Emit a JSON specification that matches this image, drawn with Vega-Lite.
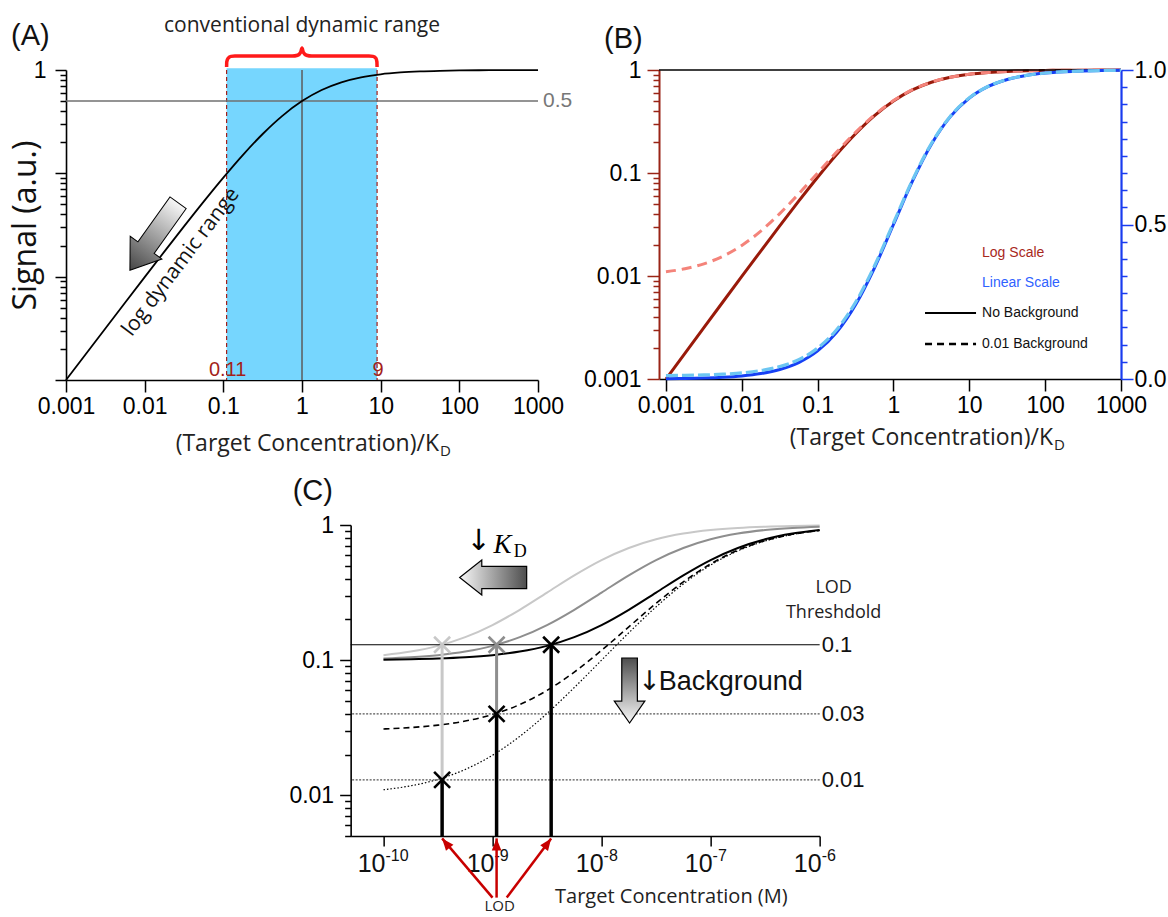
{
"$schema": "https://vega.github.io/schema/vega-lite/v6.json",
"background": "white",
"padding": {"left": 9, "top": 14, "right": 2, "bottom": 2},
"config": {
  "view": {"stroke": null},
  "axis": {"grid": false, "domainColor": "#000", "domainWidth": 1.6, "tickColor": "#000", "tickWidth": 1.5, "labelColor": "#000", "labelFont": "Liberation Sans", "labelFontSize": 23, "labelOverlap": false, "labelFlush": false, "titleFont": "Open Sans", "titleFontWeight": "normal", "titleColor": "#111"},
  "text": {"font": "Open Sans", "color": "#1a1a1a"}
},
"data": {"name": "one"},
"datasets": {
  "one": [{"n": 1}],
  "curve": [
    {"x":0.001,"s":0.000999,"sb":0.010989},
    {"x":0.0017783,"s":0.0017751,"sb":0.011757},
    {"x":0.0031623,"s":0.0031523,"sb":0.013121},
    {"x":0.0056234,"s":0.005592,"sb":0.015536},
    {"x":0.01,"s":0.009901,"sb":0.019802},
    {"x":0.017783,"s":0.017472,"sb":0.027297},
    {"x":0.031623,"s":0.030653,"sb":0.040346},
    {"x":0.056234,"s":0.053241,"sb":0.062709},
    {"x":0.1,"s":0.090909,"sb":0.1},
    {"x":0.17783,"s":0.15098,"sb":0.15947},
    {"x":0.31623,"s":0.240253,"sb":0.247851},
    {"x":0.56234,"s":0.359935,"sb":0.366336},
    {"x":1,"s":0.5,"sb":0.505},
    {"x":1.7783,"s":0.640065,"sb":0.643664},
    {"x":3.1623,"s":0.759747,"sb":0.76215},
    {"x":5.6234,"s":0.84902,"sb":0.85053},
    {"x":10,"s":0.909091,"sb":0.91},
    {"x":17.783,"s":0.946759,"sb":0.947291},
    {"x":31.623,"s":0.969347,"sb":0.969654},
    {"x":56.234,"s":0.982528,"sb":0.982703},
    {"x":100,"s":0.990099,"sb":0.990198},
    {"x":177.83,"s":0.994408,"sb":0.994464},
    {"x":316.23,"s":0.996848,"sb":0.99688},
    {"x":562.34,"s":0.998225,"sb":0.998243},
    {"x":1000,"s":0.999001,"sb":0.999011}
  ],
  "bounds": [{"b": 0.11}, {"b": 9}],
  "brace": [
    {"x":0.11,"y":1.07},{"x":0.1105,"y":1.2},{"x":0.115,"y":1.3},{"x":0.125,"y":1.355},{"x":0.14,"y":1.365},
    {"x":0.75,"y":1.365},{"x":0.88,"y":1.39},{"x":0.96,"y":1.48},{"x":1.0,"y":1.63},{"x":1.04,"y":1.48},
    {"x":1.14,"y":1.39},{"x":1.33,"y":1.365},{"x":7.1,"y":1.365},{"x":8.0,"y":1.355},{"x":8.7,"y":1.3},
    {"x":8.95,"y":1.2},{"x":9.0,"y":1.07}
  ],
  "bind": [
    {"x":1e-10,"k100":0.100899,"k32":0.102837,"k10":0.108911,"b03":0.030969,"b01":0.010989},
    {"x":1.7783e-10,"k100":0.101598,"k32":0.105033,"k10":0.115725,"b03":0.031722,"b01":0.011757},
    {"x":3.1623e-10,"k100":0.102837,"k32":0.108911,"k10":0.127588,"b03":0.033058,"b01":0.013121},
    {"x":5.6234e-10,"k100":0.105033,"k32":0.115725,"k10":0.147917,"b03":0.035424,"b01":0.015536},
    {"x":1e-9,"k100":0.108911,"k32":0.127588,"k10":0.181818,"b03":0.039604,"b01":0.019802},
    {"x":1.7783e-9,"k100":0.115725,"k32":0.147917,"k10":0.235882,"b03":0.046948,"b01":0.027297},
    {"x":3.1623e-9,"k100":0.127588,"k32":0.181818,"k10":0.316228,"b03":0.059733,"b01":0.040346},
    {"x":5.6234e-9,"k100":0.147917,"k32":0.235882,"k10":0.423942,"b03":0.081644,"b01":0.062709},
    {"x":1e-8,"k100":0.181818,"k32":0.316228,"k10":0.55,"b03":0.118182,"b01":0.1},
    {"x":1.7783e-8,"k100":0.235882,"k32":0.423942,"k10":0.676059,"b03":0.176451,"b01":0.15947},
    {"x":3.1623e-8,"k100":0.316228,"k32":0.55,"k10":0.783772,"b03":0.263045,"b01":0.247851},
    {"x":5.6234e-8,"k100":0.423942,"k32":0.676059,"k10":0.864118,"b03":0.379137,"b01":0.366336},
    {"x":1e-7,"k100":0.55,"k32":0.783772,"k10":0.918182,"b03":0.515,"b01":0.505},
    {"x":1.7783e-7,"k100":0.676059,"k32":0.864118,"k10":0.952083,"b03":0.650863,"b01":0.643664},
    {"x":3.1623e-7,"k100":0.783772,"k32":0.918182,"k10":0.972412,"b03":0.766955,"b01":0.76215},
    {"x":5.6234e-7,"k100":0.864118,"k32":0.952083,"k10":0.984275,"b03":0.853549,"b01":0.85053},
    {"x":1e-6,"k100":0.918182,"k32":0.972412,"k10":0.991089,"b03":0.911818,"b01":0.91}
  ],
  "lod": [
    {"x": 3.45e-10, "lod": 0.013, "top": 0.13, "kd": "10 nM"},
    {"x": 1.09e-9, "lod": 0.04, "top": 0.13, "kd": "31.6 nM"},
    {"x": 3.45e-9, "lod": 0.13, "top": 0.13, "kd": "100 nM"}
  ],
  "marks": [
    {"x": 3.45e-10, "y": 0.13, "kd": "10 nM"},
    {"x": 1.09e-9, "y": 0.13, "kd": "31.6 nM"},
    {"x": 3.45e-9, "y": 0.13, "kd": "100 nM"},
    {"x": 1.09e-9, "y": 0.04, "kd": "100 nM"},
    {"x": 3.45e-10, "y": 0.013, "kd": "100 nM"}
  ],
  "thresholds": [
    {"level": 0.13, "label": "0.1"},
    {"level": 0.04, "label": "0.03"},
    {"level": 0.013, "label": "0.01"}
  ],
  "decades": [
    {"x": 1e-10, "exp": "-10"},
    {"x": 1e-9, "exp": "-9"},
    {"x": 1e-8, "exp": "-8"},
    {"x": 1e-7, "exp": "-7"},
    {"x": 1e-6, "exp": "-6"}
  ]
},
"spacing": 18,
"center": true,
"bounds": "full",
"vconcat": [
 {
  "hconcat": [
   {
    "width": 472, "height": 310,
    "layer": [
     {"data": {"name": "bounds"},
      "mark": {"type": "rect", "color": "#76d6fe"},
      "encoding": {
        "x": {"aggregate": "min", "field": "b", "type": "quantitative", "scale": {"type": "log", "domain": [0.001, 1000], "nice": false},
              "axis": {"values": [0.001,0.01,0.1,1,10,100,1000], "tickCount": 100, "format": "~g", "tickSize": 12, "labelPadding": 3, "title": null}},
        "x2": {"aggregate": "max", "field": "b"},
        "y": {"datum": 0.001, "type": "quantitative", "title": "Signal (a.u.)", "scale": {"type": "log", "domain": [0.001, 1], "nice": false},
              "axis": {"values": [0.001,0.002,0.003,0.004,0.005,0.006,0.007,0.008,0.009,0.01,0.02,0.03,0.04,0.05,0.06,0.07,0.08,0.09,0.1,0.2,0.3,0.4,0.5,0.6,0.7,0.8,0.9,1],
                       "tickCount": 100,
                       "labelExpr": "datum.value == 1 ? '1' : ''",
                       "tickSize": {"condition": {"test": "datum.value == 1 || datum.value == 0.1 || datum.value == 0.01 || datum.value == 0.001", "value": 11}, "value": 6},
                       "labelPadding": 9, "titleFontSize": 32, "titlePadding": -9}},
        "y2": {"datum": 1.04}
      }},
     {"data": {"name": "bounds"},
      "mark": {"type": "rule", "color": "#a31f1a", "strokeDash": [4, 3], "strokeWidth": 1.2},
      "encoding": {"x": {"field": "b", "type": "quantitative", "title": null}}},
     {"mark": {"type": "rule", "color": "#707070", "strokeWidth": 1.5},
      "encoding": {"y": {"datum": 0.5, "type": "quantitative", "title": "Signal (a.u.)"}}},
     {"mark": {"type": "rule", "color": "#5c5c5c", "strokeWidth": 1.5},
      "encoding": {"x": {"datum": 1, "type": "quantitative", "title": null}}},
     {"data": {"name": "curve"},
      "mark": {"type": "line", "color": "#000", "strokeWidth": 1.8, "interpolate": "monotone"},
      "encoding": {"x": {"field": "x", "type": "quantitative", "title": null}, "y": {"field": "s", "type": "quantitative", "title": "Signal (a.u.)"}}},
     {"data": {"name": "bounds"},
      "mark": {"type": "text", "font": "Liberation Sans", "fontSize": 20, "color": "#a31f1a", "dy": -10, "dx": 1},
      "encoding": {"x": {"field": "b", "type": "quantitative", "title": null}, "y": {"datum": 0.001, "type": "quantitative", "title": "Signal (a.u.)"},
                   "text": {"field": "b", "type": "quantitative", "format": "~g"}}},
     {"mark": {"type": "text", "text": "0.5", "font": "Liberation Sans", "fontSize": 21, "color": "#777", "align": "left", "dx": 5},
      "encoding": {"x": {"datum": 1000, "type": "quantitative", "title": null}, "y": {"datum": 0.5, "type": "quantitative", "title": "Signal (a.u.)"}}},
     {"data": {"name": "brace"},
      "mark": {"type": "line", "color": "#ff1a1a", "strokeWidth": 3.5, "interpolate": "monotone"},
      "encoding": {"x": {"field": "x", "type": "quantitative", "title": null}, "y": {"field": "y", "type": "quantitative", "title": "Signal (a.u.)"}}},
     {"mark": {"type": "text", "text": "conventional dynamic range", "fontSize": 21, "color": "#222"},
      "encoding": {"x": {"datum": 1.0, "type": "quantitative", "title": null}, "y": {"datum": 2.666, "type": "quantitative", "title": "Signal (a.u.)"}}},
     {"mark": {"type": "text", "text": "log dynamic range", "fontSize": 21, "color": "#111", "angle": 307},
      "encoding": {"x": {"datum": 0.02897, "type": "quantitative", "title": null}, "y": {"datum": 0.01387, "type": "quantitative", "title": "Signal (a.u.)"}}},
     {"mark": {"type": "point", "shape": "M -1 -0.24 L 0.33 -0.24 L 0.33 -0.47 L 1 0 L 0.33 0.47 L 0.33 0.24 L -1 0.24 Z", "size": 6889, "angle": 125.5, "filled": true, "opacity": 1,
               "fill": {"gradient": "linear", "x1": 0, "y1": 0, "x2": 1, "y2": 0, "stops": [{"offset": 0, "color": "#f7f7f7"}, {"offset": 1, "color": "#454545"}]},
               "stroke": "#000", "strokeWidth": 1},
      "encoding": {"x": {"datum": 0.01314, "type": "quantitative", "title": null}, "y": {"datum": 0.02447, "type": "quantitative", "title": "Signal (a.u.)"}}},
     {"mark": {"type": "text", "text": "(A)", "font": "Liberation Sans", "fontSize": 29, "color": "#111", "align": "left", "dx": -55, "dy": -34},
      "encoding": {"x": {"datum": 0.001, "type": "quantitative", "title": null}, "y": {"datum": 1, "type": "quantitative", "title": "Signal (a.u.)"}}},
     {"mark": {"type": "text", "text": "(Target Concentration)/K", "fontSize": 23, "color": "#222", "align": "right", "dy": 64},
      "encoding": {"x": {"datum": 55.1, "type": "quantitative", "title": null}, "y": {"datum": 0.001, "type": "quantitative", "title": "Signal (a.u.)"}}},
     {"mark": {"type": "text", "text": "D", "fontSize": 15, "color": "#222", "align": "left", "dx": 1, "dy": 71},
      "encoding": {"x": {"datum": 55.1, "type": "quantitative", "title": null}, "y": {"datum": 0.001, "type": "quantitative", "title": "Signal (a.u.)"}}}
    ]
   },
   {
    "width": 462, "height": 309,
    "resolve": {"scale": {"y": "independent"}, "axis": {"y": "independent"}},
    "layer": [
     {"layer": [
       {"data": {"name": "curve"},
        "mark": {"type": "line", "color": "#991a0a", "strokeWidth": 3, "interpolate": "monotone"},
        "encoding": {
          "x": {"field": "x", "type": "quantitative", "scale": {"type": "log", "domain": [0.00081, 1000], "nice": false},
                "axis": {"values": [0.001,0.01,0.1,1,10,100,1000], "tickCount": 100, "format": "~g", "tickSize": 12, "labelPadding": 3, "title": null}},
          "y": {"field": "s", "type": "quantitative", "scale": {"type": "log", "domain": [0.001, 1], "nice": false},
                "axis": {"orient": "left", "values": [0.001,0.002,0.003,0.004,0.005,0.006,0.007,0.008,0.009,0.01,0.02,0.03,0.04,0.05,0.06,0.07,0.08,0.09,0.1,0.2,0.3,0.4,0.5,0.6,0.7,0.8,0.9,1],
                         "tickCount": 100,
                         "labelExpr": "datum.value == 1 ? '1' : datum.value == 0.1 ? '0.1' : datum.value == 0.01 ? '0.01' : datum.value == 0.001 ? '0.001' : ''",
                         "tickSize": {"condition": {"test": "datum.value == 1 || datum.value == 0.1 || datum.value == 0.01 || datum.value == 0.001", "value": 12}, "value": 6},
                         "labelPadding": 6, "domainColor": "#9a2416", "tickColor": "#9a2416", "domainWidth": 2, "title": null}}
        }},
       {"data": {"name": "curve"},
        "mark": {"type": "line", "color": "#f4837a", "strokeWidth": 3, "strokeDash": [10, 6], "interpolate": "monotone"},
        "encoding": {"x": {"field": "x", "type": "quantitative", "title": null}, "y": {"field": "sb", "type": "quantitative", "title": null}}},
       {"mark": {"type": "rule", "color": "#000", "strokeWidth": 1.5},
        "encoding": {"y": {"datum": 1, "type": "quantitative", "title": null}}},
       {"mark": {"type": "text", "text": "Log Scale", "font": "Liberation Sans", "fontSize": 14, "color": "#a8281c", "align": "left"},
        "encoding": {"x": {"datum": 14.71, "type": "quantitative", "title": null}, "y": {"datum": 0.01672, "type": "quantitative", "title": null}}},
       {"mark": {"type": "text", "text": "Linear Scale", "font": "Liberation Sans", "fontSize": 14, "color": "#2f62ff", "align": "left"},
        "encoding": {"x": {"datum": 14.71, "type": "quantitative", "title": null}, "y": {"datum": 0.00855, "type": "quantitative", "title": null}}},
       {"mark": {"type": "text", "text": "No Background", "font": "Liberation Sans", "fontSize": 14, "color": "#111", "align": "left"},
        "encoding": {"x": {"datum": 14.71, "type": "quantitative", "title": null}, "y": {"datum": 0.004375, "type": "quantitative", "title": null}}},
       {"mark": {"type": "text", "text": "0.01 Background", "font": "Liberation Sans", "fontSize": 14, "color": "#111", "align": "left"},
        "encoding": {"x": {"datum": 14.71, "type": "quantitative", "title": null}, "y": {"datum": 0.002188, "type": "quantitative", "title": null}}},
       {"mark": {"type": "rule", "color": "#000", "strokeWidth": 2},
        "encoding": {"x": {"datum": 2.605, "type": "quantitative", "title": null}, "x2": {"datum": 12.26}, "y": {"datum": 0.004375, "type": "quantitative", "title": null}}},
       {"mark": {"type": "rule", "color": "#000", "strokeWidth": 2.5, "strokeDash": [7, 5]},
        "encoding": {"x": {"datum": 2.605, "type": "quantitative", "title": null}, "x2": {"datum": 12.26}, "y": {"datum": 0.002188, "type": "quantitative", "title": null}}},
       {"mark": {"type": "text", "text": "(B)", "font": "Liberation Sans", "fontSize": 29, "color": "#111", "align": "left", "dx": -55, "dy": -31},
        "encoding": {"x": {"datum": 0.00081, "type": "quantitative", "title": null}, "y": {"datum": 1, "type": "quantitative", "title": null}}},
       {"mark": {"type": "text", "text": "(Target Concentration)/K", "fontSize": 23, "color": "#222", "align": "right", "dy": 59},
        "encoding": {"x": {"datum": 127, "type": "quantitative", "title": null}, "y": {"datum": 0.001, "type": "quantitative", "title": null}}},
       {"mark": {"type": "text", "text": "D", "fontSize": 15, "color": "#222", "align": "left", "dx": 1, "dy": 66},
        "encoding": {"x": {"datum": 127, "type": "quantitative", "title": null}, "y": {"datum": 0.001, "type": "quantitative", "title": null}}}
     ]},
     {"layer": [
       {"data": {"name": "curve"},
        "mark": {"type": "line", "color": "#1640f5", "strokeWidth": 3, "interpolate": "monotone"},
        "encoding": {
          "x": {"field": "x", "type": "quantitative", "title": null},
          "y": {"field": "s", "type": "quantitative", "scale": {"type": "linear", "domain": [0, 1], "nice": false, "zero": false},
                "axis": {"orient": "right", "values": [0,0.055556,0.111111,0.166667,0.222222,0.277778,0.333333,0.388889,0.444444,0.5,0.555556,0.611111,0.666667,0.722222,0.777778,0.833333,0.888889,0.944444,1],
                         "tickCount": 100,
                         "labelExpr": "datum.value == 0 || datum.value == 0.5 || datum.value == 1 ? format(datum.value, '.1f') : ''",
                         "labelOverlap": false, "labelBound": false,
                         "tickSize": {"condition": {"test": "datum.value == 0 || datum.value == 0.5 || datum.value == 1", "value": 12}, "value": 6},
                         "labelPadding": 1, "domainColor": "#1a3cef", "tickColor": "#1a3cef", "domainWidth": 2.2, "title": null}}
        }},
       {"data": {"name": "curve"},
        "mark": {"type": "line", "color": "#6cc6f2", "strokeWidth": 3.2, "strokeDash": [12, 4], "interpolate": "monotone"},
        "encoding": {"x": {"field": "x", "type": "quantitative", "title": null}, "y": {"field": "sb", "type": "quantitative", "title": null}}}
     ]}
    ]
   }
  ],
  "spacing": 121,
  "bounds": "flush"
 },
 {
  "width": 469, "height": 311,
  "layer": [
   {"data": {"name": "bind"},
    "mark": {"type": "line", "color": "#c8c8c8", "strokeWidth": 2, "interpolate": "monotone"},
    "encoding": {
      "x": {"field": "x", "type": "quantitative", "scale": {"type": "log", "domain": [5e-11, 1e-6], "nice": false},
            "axis": {"values": [1e-10,1e-9,1e-8,1e-7,1e-6], "tickCount": 100, "labels": false, "tickSize": 10, "title": null}},
      "y": {"field": "k10", "type": "quantitative", "scale": {"type": "log", "domain": [0.005, 1], "nice": false},
            "axis": {"values": [0.005,0.006,0.007,0.008,0.009,0.01,0.02,0.03,0.04,0.05,0.06,0.07,0.08,0.09,0.1,0.2,0.3,0.4,0.5,0.6,0.7,0.8,0.9,1],
                     "tickCount": 100,
                     "labelExpr": "datum.value == 1 ? '1' : datum.value == 0.1 ? '0.1' : datum.value == 0.01 ? '0.01' : ''",
                     "tickSize": {"condition": {"test": "datum.value == 1 || datum.value == 0.1 || datum.value == 0.01", "value": 11}, "value": 6},
                     "labelPadding": 6, "title": null}}
    }},
   {"data": {"name": "bind"},
    "mark": {"type": "line", "color": "#8e8e8e", "strokeWidth": 2, "interpolate": "monotone"},
    "encoding": {"x": {"field": "x", "type": "quantitative", "title": null}, "y": {"field": "k32", "type": "quantitative", "title": null}}},
   {"data": {"name": "bind"},
    "mark": {"type": "line", "color": "#000", "strokeWidth": 2, "interpolate": "monotone"},
    "encoding": {"x": {"field": "x", "type": "quantitative", "title": null}, "y": {"field": "k100", "type": "quantitative", "title": null}}},
   {"data": {"name": "bind"},
    "mark": {"type": "line", "color": "#000", "strokeWidth": 1.6, "strokeDash": [6, 4], "interpolate": "monotone"},
    "encoding": {"x": {"field": "x", "type": "quantitative", "title": null}, "y": {"field": "b03", "type": "quantitative", "title": null}}},
   {"data": {"name": "bind"},
    "mark": {"type": "line", "color": "#000", "strokeWidth": 1.2, "strokeDash": [1.5, 2], "interpolate": "monotone"},
    "encoding": {"x": {"field": "x", "type": "quantitative", "title": null}, "y": {"field": "b01", "type": "quantitative", "title": null}}},
   {"data": {"name": "thresholds"},
    "transform": [{"filter": "datum.level == 0.13"}],
    "mark": {"type": "rule", "color": "#000", "strokeWidth": 1.2},
    "encoding": {"y": {"field": "level", "type": "quantitative", "title": null}}},
   {"data": {"name": "thresholds"},
    "transform": [{"filter": "datum.level != 0.13"}],
    "mark": {"type": "rule", "color": "#555", "strokeWidth": 1.2, "strokeDash": [2, 1.5]},
    "encoding": {"y": {"field": "level", "type": "quantitative", "title": null}}},
   {"data": {"name": "lod"},
    "mark": {"type": "rule", "strokeWidth": 3},
    "encoding": {"x": {"field": "x", "type": "quantitative", "title": null},
                 "y": {"field": "lod", "type": "quantitative", "title": null}, "y2": {"field": "top"},
                 "color": {"field": "kd", "type": "nominal", "scale": {"domain": ["10 nM", "31.6 nM", "100 nM"], "range": ["#c8c8c8", "#8e8e8e", "#000000"]}, "legend": null}}},
   {"data": {"name": "lod"},
    "mark": {"type": "rule", "strokeWidth": 3.5, "color": "#000"},
    "encoding": {"x": {"field": "x", "type": "quantitative", "title": null},
                 "y": {"field": "lod", "type": "quantitative", "title": null}, "y2": {"datum": 0.005}}},
   {"data": {"name": "marks"},
    "mark": {"type": "point", "shape": "M -1 -1 L 1 1 M -1 1 L 1 -1", "size": 256, "filled": false, "strokeWidth": 2.6, "opacity": 1},
    "encoding": {"x": {"field": "x", "type": "quantitative", "title": null},
                 "y": {"field": "y", "type": "quantitative", "title": null},
                 "color": {"field": "kd", "type": "nominal", "scale": {"domain": ["10 nM", "31.6 nM", "100 nM"], "range": ["#c8c8c8", "#8e8e8e", "#000000"]}, "legend": null}}},
   {"data": {"name": "thresholds"},
    "mark": {"type": "text", "font": "Liberation Sans", "fontSize": 22, "color": "#111", "align": "left", "dx": 2},
    "encoding": {"x": {"datum": 1e-6, "type": "quantitative", "title": null}, "y": {"field": "level", "type": "quantitative", "title": null}, "text": {"field": "label"}}},
   {"mark": {"type": "text", "text": "LOD", "fontSize": 18, "color": "#222", "dx": 14},
    "encoding": {"x": {"datum": 1e-6, "type": "quantitative", "title": null}, "y": {"datum": 0.342, "type": "quantitative", "title": null}}},
   {"mark": {"type": "text", "text": "Threshdold", "fontSize": 18, "color": "#222", "dx": 14},
    "encoding": {"x": {"datum": 1e-6, "type": "quantitative", "title": null}, "y": {"datum": 0.2234, "type": "quantitative", "title": null}}},
   {"mark": {"type": "text", "text": "↓", "font": "DejaVu Sans", "fontSize": 29, "color": "#000"},
    "encoding": {"x": {"datum": 7.46e-10, "type": "quantitative", "title": null}, "y": {"datum": 0.7614, "type": "quantitative", "title": null}}},
   {"mark": {"type": "text", "text": "K", "font": "Liberation Serif", "fontStyle": "italic", "fontSize": 27, "color": "#000", "align": "left", "baseline": "alphabetic"},
    "encoding": {"x": {"datum": 1.023e-9, "type": "quantitative", "title": null}, "y": {"datum": 0.6205, "type": "quantitative", "title": null}}},
   {"mark": {"type": "text", "text": "D", "font": "Liberation Serif", "fontSize": 18, "color": "#000", "align": "left", "baseline": "alphabetic"},
    "encoding": {"x": {"datum": 1.563e-9, "type": "quantitative", "title": null}, "y": {"datum": 0.5797, "type": "quantitative", "title": null}}},
   {"mark": {"type": "point", "shape": "M -1 -0.33 L 0.34 -0.33 L 0.34 -0.52 L 1 0 L 0.34 0.52 L 0.34 0.33 L -1 0.33 Z", "size": 4489, "angle": 180, "filled": true, "opacity": 1,
             "fill": {"gradient": "linear", "x1": 0, "y1": 0, "x2": 1, "y2": 0, "stops": [{"offset": 0, "color": "#4e4e4e"}, {"offset": 1, "color": "#f8f8f8"}]},
             "stroke": "#000", "strokeWidth": 1.2},
    "encoding": {"x": {"datum": 1.014e-9, "type": "quantitative", "title": null}, "y": {"datum": 0.409, "type": "quantitative", "title": null}}},
   {"mark": {"type": "point", "shape": "M -1 -0.24 L 0.33 -0.24 L 0.33 -0.47 L 1 0 L 0.33 0.47 L 0.33 0.24 L -1 0.24 Z", "size": 4225, "angle": 90, "filled": true, "opacity": 1,
             "fill": {"gradient": "linear", "x1": 0, "y1": 0, "x2": 1, "y2": 0, "stops": [{"offset": 0, "color": "#4e4e4e"}, {"offset": 1, "color": "#f8f8f8"}]},
             "stroke": "#000", "strokeWidth": 1.2},
    "encoding": {"x": {"datum": 1.807e-8, "type": "quantitative", "title": null}, "y": {"datum": 0.05964, "type": "quantitative", "title": null}}},
   {"mark": {"type": "text", "text": "↓", "font": "DejaVu Sans", "fontSize": 27, "color": "#111", "dx": 8},
    "encoding": {"x": {"datum": 2.331e-8, "type": "quantitative", "title": null}, "y": {"datum": 0.06893, "type": "quantitative", "title": null}}},
   {"mark": {"type": "text", "text": "Background", "font": "Liberation Sans", "fontSize": 27, "color": "#111", "align": "left", "dx": 17},
    "encoding": {"x": {"datum": 2.331e-8, "type": "quantitative", "title": null}, "y": {"datum": 0.06893, "type": "quantitative", "title": null}}},
   {"data": {"name": "decades"},
    "mark": {"type": "text", "text": "10", "font": "Liberation Sans", "fontSize": 25, "color": "#111", "align": "right", "dx": 2, "dy": 28},
    "encoding": {"x": {"field": "x", "type": "quantitative", "title": null}, "y": {"datum": 0.005, "type": "quantitative", "title": null}}},
   {"data": {"name": "decades"},
    "mark": {"type": "text", "font": "Liberation Sans", "fontSize": 16, "color": "#111", "align": "left", "dx": 2, "dy": 20},
    "encoding": {"x": {"field": "x", "type": "quantitative", "title": null}, "y": {"datum": 0.005, "type": "quantitative", "title": null}, "text": {"field": "exp"}}},
   {"mark": {"type": "text", "text": "Target Concentration (M)", "fontSize": 20, "color": "#222", "align": "right", "dy": 61},
    "encoding": {"x": {"datum": 5.087e-7, "type": "quantitative", "title": null}, "y": {"datum": 0.005, "type": "quantitative", "title": null}}},
   {"mark": {"type": "rule", "color": "#c80000", "strokeWidth": 2.5},
    "encoding": {"x": {"datum": 1.0e-9, "type": "quantitative", "title": null}, "x2": {"datum": 3.45e-10}, "y": {"datum": 0.00175, "type": "quantitative", "title": null}, "y2": {"datum": 0.0048}}},
   {"mark": {"type": "rule", "color": "#c80000", "strokeWidth": 2.5},
    "encoding": {"x": {"datum": 1.09e-9, "type": "quantitative", "title": null}, "x2": {"datum": 1.09e-9}, "y": {"datum": 0.00175, "type": "quantitative", "title": null}, "y2": {"datum": 0.0048}}},
   {"mark": {"type": "rule", "color": "#c80000", "strokeWidth": 2.5},
    "encoding": {"x": {"datum": 1.35e-9, "type": "quantitative", "title": null}, "x2": {"datum": 3.45e-9}, "y": {"datum": 0.00175, "type": "quantitative", "title": null}, "y2": {"datum": 0.0048}}},
   {"mark": {"type": "point", "shape": "M 0 0 L 0.8 2 L -0.8 2 Z", "size": 144, "angle": 320.8, "filled": true, "opacity": 1, "color": "#c80000"},
    "encoding": {"x": {"datum": 3.45e-10, "type": "quantitative", "title": null}, "y": {"datum": 0.0048, "type": "quantitative", "title": null}}},
   {"mark": {"type": "point", "shape": "M 0 0 L 0.8 2 L -0.8 2 Z", "size": 144, "angle": 0, "filled": true, "opacity": 1, "color": "#c80000"},
    "encoding": {"x": {"datum": 1.09e-9, "type": "quantitative", "title": null}, "y": {"datum": 0.0048, "type": "quantitative", "title": null}}},
   {"mark": {"type": "point", "shape": "M 0 0 L 0.8 2 L -0.8 2 Z", "size": 144, "angle": 35.9, "filled": true, "opacity": 1, "color": "#c80000"},
    "encoding": {"x": {"datum": 3.45e-9, "type": "quantitative", "title": null}, "y": {"datum": 0.0048, "type": "quantitative", "title": null}}},
   {"mark": {"type": "text", "text": "LOD", "fontSize": 15, "color": "#222", "dy": 70},
    "encoding": {"x": {"datum": 1.162e-9, "type": "quantitative", "title": null}, "y": {"datum": 0.005, "type": "quantitative", "title": null}}},
   {"mark": {"type": "text", "text": "(C)", "font": "Liberation Sans", "fontSize": 29, "color": "#111", "align": "left", "dx": -58, "dy": -34},
    "encoding": {"x": {"datum": 5e-11, "type": "quantitative", "title": null}, "y": {"datum": 1, "type": "quantitative", "title": null}}}
  ]
 }
]
}
